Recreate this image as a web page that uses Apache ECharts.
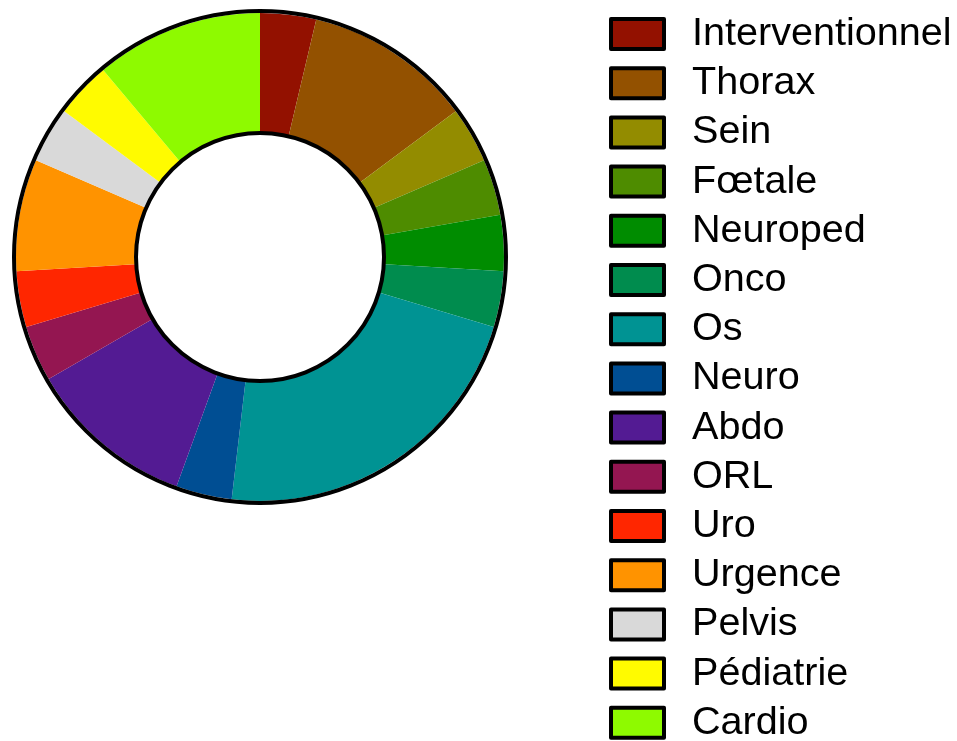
<!DOCTYPE html>
<html>
<head>
<meta charset="utf-8">
<script src="https://cdn.jsdelivr.net/npm/echarts@6/dist/echarts.min.js"></script>
<style>
html,body{margin:0;padding:0;background:#fff;}
#chart{width:957px;height:741px;}
</style>
</head>
<body>
<div id="chart"></div>
<script>
const categories = ['Interventionnel','Thorax','Sein','Fœtale','Neuroped','Onco','Os','Neuro','Abdo','ORL','Uro','Urgence','Pelvis','Pédiatrie','Cardio'];
const values = [1,3,1,1,1,1,6,1,3,1,1,2,1,1,3];
const colors = ['#931100','#935100','#938C00','#4E8C00','#008C00','#008C4E','#009393','#004E93','#531B93','#941651','#FF2600','#FF9300','#D9D9D9','#FFFB00','#8EFA00'];

const chart = echarts.init(document.getElementById('chart'), null, {renderer:'canvas'});
const cx = 260, cy = 257, rIn = 125, rOut = 244;
chart.setOption({
  animation:false,
  color: colors,
  legend:{
    orient:'vertical',
    left:609, top:14, height:780,
    itemWidth:53, itemHeight:30,
    itemGap:9.2,
    icon:'rect',
    itemStyle:{borderColor:'#000', borderWidth:4},
    textStyle:{fontFamily:'Liberation Sans, Arial, sans-serif', fontSize:39.6, color:'#000', lineHeight:40, padding:[0,0,0,23]},
    padding:0,
    data: categories
  },
  series:[{
    type:'pie',
    center:[cx,cy],
    radius:[rIn,rOut],
    startAngle:90,
    clockwise:true,
    label:{show:false},
    labelLine:{show:false},
    emphasis:{disabled:true},
    itemStyle:{borderWidth:0},
    data: categories.map((c,i)=>({name:c, value:values[i]}))
  }],
  graphic:[
    {type:'circle', shape:{cx:cx, cy:cy, r:rOut+2}, style:{fill:'none', stroke:'#000', lineWidth:4}, z:10},
    {type:'circle', shape:{cx:cx, cy:cy, r:rIn-1}, style:{fill:'none', stroke:'#000', lineWidth:4}, z:10}
  ]
});
</script>
</body>
</html>
